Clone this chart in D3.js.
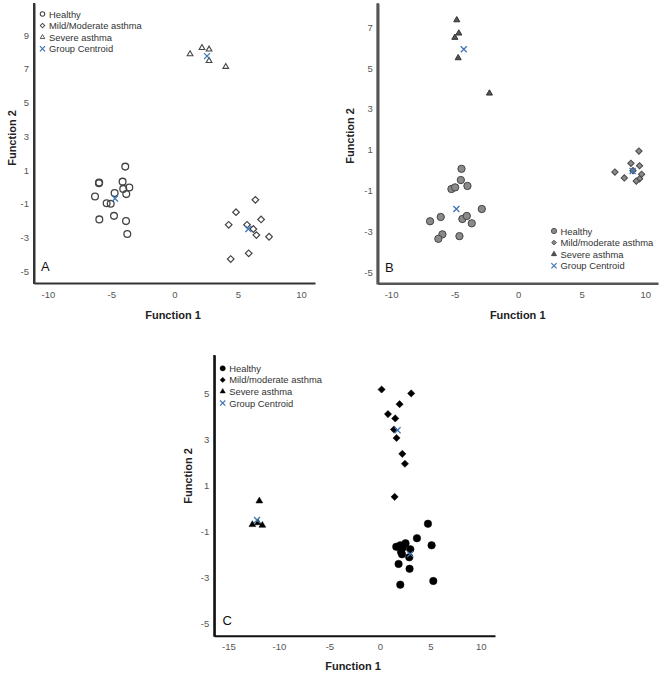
<!DOCTYPE html>
<html><head><meta charset="utf-8">
<script src="https://cdn.jsdelivr.net/npm/d3@7"></script>
<style>body{margin:0;background:#fff}svg{display:block;font-family:"Liberation Sans",Arial,sans-serif}</style>
</head><body>
<svg id="chart" width="669" height="674"></svg>
<script>
// ---------- DATA ----------
const xTicksAB = [-10, -5, 0, 5, 10];
const xTicksC = [-15, -10, -5, 0, 5, 10];
const yTicksA = [-5, -3, -1, 1, 3, 5, 7, 9];
const yTicksB = [-5, -3, -1, 1, 3, 5, 7];
const yTicksC = [-5, -3, -1, 1, 3, 5];

const legendA = ["Healthy", "Mild/Moderate asthma", "Severe asthma", "Group Centroid"];
const legendBC = ["Healthy", "Mild/moderate asthma", "Severe asthma", "Group Centroid"];

// Panel A
const healthyA = [[-3.89,1.2],[-5.97,0.22],[-5.95,0.26],[-4.1,0.31],[-4.05,-0.12],[-3.57,-0.04],[-4.73,-0.37],[-3.81,-0.43],[-6.28,-0.57],[-5.36,-0.97],[-5.04,-1.0],[-5.94,-1.93],[-4.78,-1.72],[-3.83,-2.03],[-3.73,-2.8]];
const mildA = [[6.39,-0.77],[4.86,-1.5],[6.84,-1.93],[4.28,-2.25],[5.73,-2.25],[6.23,-2.5],[6.47,-2.86],[7.47,-2.96],[5.86,-3.94],[4.44,-4.28]];
const severeA = [[1.23,7.87],[2.17,8.24],[2.73,8.15],[2.73,7.47],[4.05,7.12]];
const centroidA = [[-4.7,-0.69],[5.84,-2.5],[2.57,7.75]];

// Panel B
const healthyB = [[-4.46,0.06],[-4.51,-0.49],[-5.25,-0.93],[-4.96,-0.85],[-3.99,-0.78],[-2.86,-1.91],[-6.93,-2.51],[-6.09,-2.3],[-4.39,-2.4],[-4.04,-2.25],[-3.65,-2.61],[-5.96,-3.15],[-6.28,-3.37],[-4.62,-3.24]];
const mildB = [[9.5,0.93],[8.87,0.33],[9.55,0.21],[7.61,-0.1],[8.35,-0.39],[9.03,-0.03],[9.71,-0.21],[9.55,-0.43],[9.29,-0.54]];
const severeB = [[-4.83,7.35],[-4.67,6.7],[-4.98,6.49],[-4.72,5.49],[-2.26,3.76]];
const centroidB = [[-4.86,-1.91],[9.0,-0.05],[-4.28,5.92]];

// Panel C
const healthyC = [[4.76,-0.67],[3.67,-1.3],[5.12,-1.61],[1.62,-1.67],[2.02,-1.61],[2.54,-1.52],[2.28,-1.7],[3.01,-1.78],[2.09,-1.89],[2.19,-2.0],[2.91,-2.13],[1.85,-2.42],[2.94,-2.63],[5.29,-3.16],[2.02,-3.32]];
const mildC = [[0.17,5.17],[3.1,5.0],[1.95,4.53],[0.8,4.1],[1.52,3.91],[1.39,3.43],[1.65,3.06],[2.22,2.37],[2.48,1.94],[1.46,0.5]];
const severeC = [[-11.94,0.32],[-12.63,-0.71],[-12.07,-0.63],[-11.64,-0.74]];
const centroidC = [[3.0,-1.99],[1.75,3.4],[-12.17,-0.51]];

// ---------- DRAW ----------
const svg = d3.select("#chart");
svg.append("rect").attr("width",669).attr("height",674).attr("fill","#fff");

const sym = {
  circle: d3.symbol().type(d3.symbolCircle),
  diamond: d3.symbol().type(d3.symbolSquare),
  triangle: d3.symbol().type(d3.symbolTriangle)
};
const rot = shape => shape === "diamond" ? " rotate(45)" : "";

function drawPanel(p) {
  const g = svg.append("g");
  const x = d3.scaleLinear().domain(p.xDom).range([p.left, p.right]);
  const y = d3.scaleLinear().domain(p.yDom).range([p.bottom, p.top]);
  const fmt = d => String(d);

  // axes
  const ya = g.append("g").attr("transform", `translate(${p.left},0)`)
    .call(d3.axisLeft(y).tickValues(p.yTicks).tickFormat(fmt).tickSize(0).tickSizeOuter(0).tickPadding(5));
  const xa = g.append("g").attr("transform", `translate(0,${p.bottom})`)
    .call(d3.axisBottom(x).tickValues(p.xTicks).tickFormat(fmt).tickSize(0).tickSizeOuter(0).tickPadding(8));
  [ya, xa].forEach(a => {
    a.select(".domain").attr("stroke", p.axisColor).attr("stroke-width", p.axisWidth);
    a.selectAll("text").attr("fill", "#555").attr("font-size", 9.5)
      .attr("font-family", "'Liberation Sans', Arial, sans-serif");
  });
  g.append("line").attr("x1", p.left).attr("x2", p.left).attr("y1", p.top).attr("y2", p.bottom + p.axisWidth/2)
    .attr("stroke", p.axisColor).attr("stroke-width", p.axisWidth);

  // axis titles
  g.append("text").attr("x", p.xTitle[0]).attr("y", p.xTitle[1]).attr("text-anchor","middle")
    .attr("font-weight","bold").attr("font-size",11).attr("fill","#222").text("Function 1");
  g.append("text").attr("transform", `translate(${p.yTitle[0]},${p.yTitle[1]}) rotate(-90)`)
    .attr("text-anchor","middle").attr("dominant-baseline","central")
    .attr("font-weight","bold").attr("font-size",11).attr("fill","#222").text("Function 2");

  // panel letter
  g.append("text").attr("x", p.letterPos[0]).attr("y", p.letterPos[1]).attr("font-size", 13)
    .attr("fill","#111").text(p.letter);

  const st = p.style;
  function pts(data, shape, size, s) {
    g.selectAll(null).data(data).enter().append("path")
      .attr("d", sym[shape].size(size)())
      .attr("transform", d => `translate(${x(d[0])},${y(d[1])})${rot(shape)}`)
      .attr("fill", s.fill).attr("stroke", s.stroke).attr("stroke-width", s.sw);
  }
  pts(p.healthy, "circle", st.circleSize, st.circle);
  pts(p.mild, "diamond", st.diamondSize, st.diamond);
  pts(p.severe, "triangle", st.triSize, st.tri);

  // centroids
  const cs = 3;
  g.selectAll(null).data(p.centroid).enter().append("path")
    .attr("d", `M${-cs},${-cs}L${cs},${cs}M${-cs},${cs}L${cs},${-cs}`)
    .attr("transform", d => `translate(${x(d[0])},${y(d[1])})`)
    .attr("stroke", "#3f74b5").attr("stroke-width", 1.3).attr("fill","none");

  // legend
  const lg = g.append("g");
  p.legend.forEach((t, i) => {
    const ly = p.legendPos[1] + i * 11.6;
    const mx = p.legendPos[0];
    if (i < 3) {
      const shape = ["circle","diamond","triangle"][i];
      const s = [st.circle, st.diamond, st.tri][i];
      const sz = [st.lcSize, st.ldSize, st.ltSize][i];
      lg.append("path").attr("d", sym[shape].size(sz)()).attr("transform", `translate(${mx},${ly})${rot(shape)}`)
        .attr("fill", s.fill).attr("stroke", s.stroke).attr("stroke-width", s.sw*0.8);
    } else {
      const c = 2.6;
      lg.append("path").attr("d", `M${-c},${-c}L${c},${c}M${-c},${c}L${c},${-c}`)
        .attr("transform", `translate(${mx},${ly})`).attr("stroke","#3f74b5").attr("stroke-width",1.2);
    }
    lg.append("text").attr("x", mx + 6.5).attr("y", ly).attr("dominant-baseline","central")
      .attr("font-size", 9.4).attr("fill","#333").text(t);
  });
}

drawPanel({
  xDom: [-11.1, 11.1], yDom: [-5.7, 10.9], left: 34, right: 315, top: 3, bottom: 283,
  xTicks: xTicksAB, yTicks: yTicksA, axisColor: "#333", axisWidth: 2,
  xTitle: [173, 319], yTitle: [12, 138], letter: "A", letterPos: [41, 271],
  healthy: healthyA, mild: mildA, severe: severeA, centroid: centroidA,
  legend: legendA, legendPos: [42.5, 14],
  style: {
    circle: {fill:"none", stroke:"#444", sw:1.3}, circleSize: 36,
    diamond: {fill:"none", stroke:"#444", sw:1.2}, diamondSize: 22,
    tri: {fill:"none", stroke:"#444", sw:1.1}, triSize: 14,
    lcSize: 16, ldSize: 10, ltSize: 9
  }
});

drawPanel({
  xDom: [-11.05, 11.0], yDom: [-5.55, 8.17], left: 377.7, right: 658, top: 3.3, bottom: 283.3,
  xTicks: xTicksAB, yTicks: yTicksB, axisColor: "#555", axisWidth: 2.6,
  xTitle: [517.7, 319], yTitle: [350, 136], letter: "B", letterPos: [385, 271.5],
  healthy: healthyB, mild: mildB, severe: severeB, centroid: centroidB,
  legend: legendBC, legendPos: [554, 231],
  style: {
    circle: {fill:"#8a8a8a", stroke:"#444", sw:1}, circleSize: 42,
    diamond: {fill:"#8a8a8a", stroke:"#444", sw:1}, diamondSize: 20,
    tri: {fill:"#555", stroke:"#333", sw:1}, triSize: 16,
    lcSize: 22, ldSize: 11, ltSize: 11
  }
});

drawPanel({
  xDom: [-16.4, 11.4], yDom: [-5.54, 6.67], left: 214.3, right: 495, top: 355, bottom: 635.7,
  xTicks: xTicksC, yTicks: yTicksC, axisColor: "#111", axisWidth: 2,
  xTitle: [353, 670], yTitle: [188, 476], letter: "C", letterPos: [222.5, 624.5],
  healthy: healthyC, mild: mildC, severe: severeC, centroid: centroidC,
  legend: legendBC, legendPos: [222.7, 368.3],
  style: {
    circle: {fill:"#000", stroke:"#000", sw:0.5}, circleSize: 44,
    diamond: {fill:"#000", stroke:"#000", sw:0.5}, diamondSize: 26,
    tri: {fill:"#000", stroke:"#000", sw:0.5}, triSize: 20,
    lcSize: 22, ldSize: 14, ltSize: 12
  }
});
</script>
</body></html>
